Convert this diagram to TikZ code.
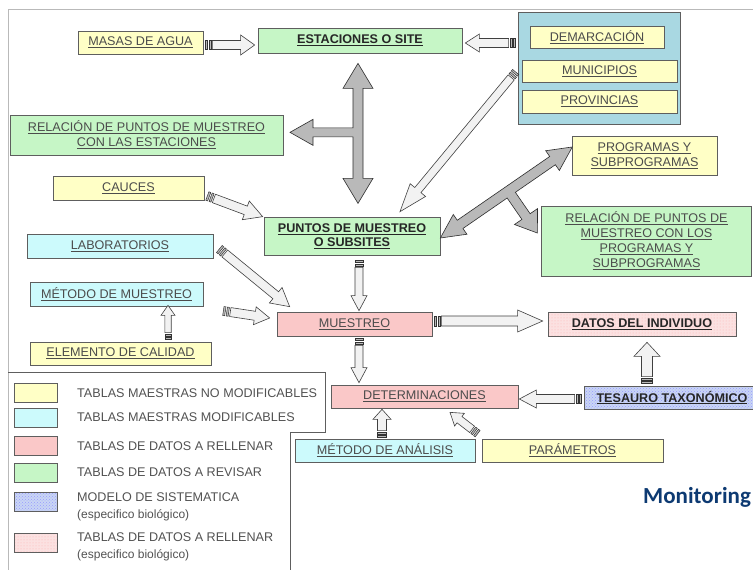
\documentclass[tikz,border=0pt]{standalone}
\usepackage{fontspec}
\setmainfont{Liberation Sans}
\newfontfamily\carlito{Carlito}
\usetikzlibrary{calc,patterns}
\definecolor{cYel}{HTML}{FFFFC6}
\definecolor{cGrn}{HTML}{C6F6C6}
\definecolor{cCyn}{HTML}{CCFAFC}
\definecolor{cPnk}{HTML}{FAC8C8}
\definecolor{cBlu}{HTML}{A9D8E2}
\definecolor{cTxt}{HTML}{4C4C4C}
\definecolor{cEdge}{HTML}{5E5E5E}
\definecolor{cNavy}{HTML}{0D3A72}
\definecolor{cTes}{HTML}{C9D6F4}
\definecolor{cPnkL}{HTML}{FBE1E1}
\tikzset{
  bx/.style={draw=cEdge, line width=0.7pt, inner sep=0pt, align=center, text=cTxt, font=\fontsize{12.6}{15}\selectfont},
  sz/.style 2 args={minimum width=#1pt, minimum height=#2pt},
  yel/.style={bx, fill=cYel},
  grn/.style={bx, fill=cGrn},
  cyn/.style={bx, fill=cCyn},
  pnk/.style={bx, fill=cPnk},
  bld/.style={text=black!85, font=\fontsize{12.6}{14}\selectfont\bfseries},
  swatch/.style={draw=cEdge, line width=0.7pt, minimum width=43pt, minimum height=19pt, inner sep=0pt},
  lgd/.style={anchor=west, inner sep=0pt, text=black!68, font=\fontsize{12.6}{15}\selectfont},
  lgds/.style={anchor=west, inner sep=0pt, text=black!68, font=\fontsize{12}{14}\selectfont},
  arrbody/.style={fill=gray!10, draw=gray!50!black, line width=0.6pt, line join=miter},
  arrstripe/.style={fill=gray!55, draw=gray!40!black, line width=0.5pt},
  bigarr/.style={fill=gray!55, draw=gray!35!black, line width=0.6pt, line join=miter},
}
\newcommand{\blkarrow}[6][]{%
  \coordinate (bkA) at (#2);
  \coordinate (bkB) at (#3);
  \coordinate (bkT1) at ($(bkA)!2pt!(bkB)$);
  \coordinate (bkT2) at ($(bkA)!3.5pt!(bkB)$);
  \coordinate (bkT3) at ($(bkA)!5.5pt!(bkB)$);
  \coordinate (bkS) at ($(bkA)!7pt!(bkB)$);
  \coordinate (bkN) at ($(bkB)!#6!(bkA)$);
  \filldraw[arrbody,#1] ($(bkS)!#4!90:(bkB)$) -- ($(bkN)!#4!90:(bkB)$) -- ($(bkN)!#5!90:(bkB)$) -- (bkB) -- ($(bkN)!#5!-90:(bkB)$) -- ($(bkN)!#4!-90:(bkB)$) -- ($(bkS)!#4!-90:(bkB)$) -- cycle;
  \filldraw[arrstripe] ($(bkA)!#4!90:(bkB)$) -- ($(bkT1)!#4!90:(bkB)$) -- ($(bkT1)!#4!-90:(bkB)$) -- ($(bkA)!#4!-90:(bkB)$) -- cycle;
  \filldraw[arrstripe] ($(bkT2)!#4!90:(bkB)$) -- ($(bkT3)!#4!90:(bkB)$) -- ($(bkT3)!#4!-90:(bkB)$) -- ($(bkT2)!#4!-90:(bkB)$) -- cycle;
}
\begin{document}
\begin{tikzpicture}[x=1pt, y=-1pt]
\useasboundingbox (0,0) rectangle (753,570);
\clip (0,0) rectangle (753,570);
\fill[white] (0,0) rectangle (753,570);
% frame
\draw[gray!55, line width=0.8pt] (8,580) -- (8,9) -- (760,9);

% nodes
\node[yel, sz={125}{23}] (masas) at (140.5,42.5) {\underline{MASAS DE AGUA}};
\node[grn, bld, sz={204}{25}] (est) at (360,40.5) {\underline{ESTACIONES O SITE}};
\node[bx, fill=cBlu, sz={162}{112}] (geo) at (599,68) {};
\node[yel, sz={134}{22}] (dem) at (597,37) {\underline{DEMARCACIÓN}};
\node[yel, sz={155}{22}] (mun) at (599.5,71) {\underline{MUNICIPIOS}};
\node[yel, sz={155}{23}] (prov) at (599.5,101.5) {\underline{PROVINCIAS}};
\node[grn, sz={273}{40}] (relest) at (146.5,135) {\underline{RELACIÓN DE PUNTOS DE MUESTREO}\\\underline{CON LAS ESTACIONES}};
\node[yel, sz={151}{24}] (cauces) at (128.5,188) {\underline{CAUCES}};
\node[yel, sz={145}{39}] (prog) at (644.5,155.5) {\underline{PROGRAMAS Y}\\\underline{SUBPROGRAMAS}};
\node[grn, bld, sz={176}{38}] (pts) at (352,236) {\underline{PUNTOS DE MUESTREO}\\\underline{O SUBSITES}};
\node[grn, sz={210}{70}] (relprog) at (646.5,241) {\underline{RELACIÓN DE PUNTOS DE}\\\underline{MUESTREO CON LOS}\\\underline{PROGRAMAS Y}\\\underline{SUBPROGRAMAS}};
\node[cyn, sz={186}{24}] (lab) at (120,246) {\underline{LABORATORIOS}};
\node[cyn, sz={173}{24}] (metm) at (116.5,294) {\underline{MÉTODO DE MUESTREO}};
\node[pnk, sz={155}{24}] (mue) at (354.5,324) {\underline{MUESTREO}};
\node[bx, bld, sz={188}{24}, preaction={fill=cPnkL}, pattern=dots, pattern color=red!30] (datos) at (642,324) {\underline{DATOS DEL INDIVIDUO}};
\node[yel, sz={181}{23}] (elem) at (120.5,353.5) {\underline{ELEMENTO DE CALIDAD}};
\node[pnk, sz={187}{23}] (det) at (424.5,396.5) {\underline{DETERMINACIONES}};
\node[bx, bld, sz={176}{23}, preaction={fill=cTes}, pattern=crosshatch dots, pattern color=blue!40] (tes) at (672,397.5) {\underline{TESAURO TAXONÓMICO}};
\node[cyn, sz={180}{23}] (metan) at (385,450.5) {\underline{MÉTODO DE ANÁLISIS}};
\node[yel, sz={181}{23}] (param) at (572.5,450.5) {\underline{PARÁMETROS}};

% legend
\draw[cEdge, line width=0.7pt] (8,372) -- (325,372) -- (325,432) -- (290,432) -- (290,580);
\node[swatch, fill=cYel] (sw1) at (35.5,392.5) {};
\node[swatch, fill=cCyn] (sw2) at (35.5,417.5) {};
\node[swatch, fill=cPnk] (sw3) at (35.5,446) {};
\node[swatch, fill=cGrn] (sw4) at (35.5,472.5) {};
\node[swatch, preaction={fill=cTes}, pattern=crosshatch dots, pattern color=blue!40] (sw5) at (35.5,502) {};
\node[swatch, preaction={fill=cPnkL}, pattern=dots, pattern color=red!30] (sw6) at (35.5,543) {};
\node[lgd] (l1) at (77,393) {TABLAS MAESTRAS NO MODIFICABLES};
\node[lgd] (l2) at (77,417) {TABLAS MAESTRAS MODIFICABLES};
\node[lgd] (l3) at (77,446) {TABLAS DE DATOS A RELLENAR};
\node[lgd] (l4) at (77,472.5) {TABLAS DE DATOS A REVISAR};
\node[lgd] (l5) at (77,497) {MODELO DE SISTEMATICA};
\node[lgds] (l5b) at (77,515) {(especifico biológico)};
\node[lgd] (l6) at (77,537) {TABLAS DE DATOS A RELLENAR};
\node[lgds] (l6b) at (77,555) {(especifico biológico)};

\node[anchor=base west, inner sep=0pt, text=cNavy, font=\carlito\bfseries\fontsize{23}{26}\selectfont] (mon) at (643,503) {Monitoring};

% big grey T arrow: ESTACIONES <-> PUNTOS, branch to RELACION
\begin{scope}[shift={($(est.south)+(-2,10)$)}]
\filldraw[bigarr] (0,0) -- (15,25) -- (5,25) -- (5,115) -- (15,115) -- (0,140) -- (-15,115) -- (-5,115) -- (-5,73.5) -- (-45,73.5) -- (-45,82) -- (-68,69) -- (-45,56) -- (-45,64.5) -- (-5,64.5) -- (-5,25) -- (-15,25) -- cycle;
\end{scope}
% big grey T arrow: PUNTOS <-> PROGRAMAS, branch to RELACION programas
\begin{scope}[shift={($(pts.east)+(0,2)$)}, rotate=34.6]
\filldraw[bigarr] (0,0) -- (24,-12) -- (24,-5) -- (136.3,-5) -- (136.3,-12) -- (160.3,0) -- (136.3,12) -- (136.3,5) -- (87.7,5) -- (87.7,31) -- (96.7,31) -- (82.7,51) -- (68.7,31) -- (77.7,31) -- (77.7,5) -- (24,5) -- (24,12) -- cycle;
\end{scope}

% light striped arrows
\blkarrow{$(masas.east)+(2,2.5)$}{$(est.west)+(-3,4.5)$}{4.5pt}{10pt}{14pt}
\blkarrow{$(geo.west)+(-2,-25)$}{$(est.east)+(3,2.5)$}{4.5pt}{9pt}{14pt}
\blkarrow{$(geo.west)+(-2,4)$}{$(pts.north)+(48,-5)$}{4pt}{10pt}{28pt}
\blkarrow{$(cauces.east)+(3,8)$}{$(pts.north west)+(-1,0)$}{4.5pt}{10pt}{18pt}
\blkarrow{$(lab.east)+(6,3)$}{$(mue.north west)+(13,-5)$}{4.5pt}{10pt}{18pt}
\blkarrow{$(metm.east)+(20,17)$}{$(mue.west)+(-7,-6)$}{4.5pt}{9pt}{15pt}
\blkarrow{$(elem.north)+(47.5,-2)$}{$(metm.south)+(51.5,-1)$}{3.2pt}{7pt}{10pt}
\blkarrow{$(pts.south)+(7,5)$}{$(mue.north)+(4.5,-1)$}{4pt}{8pt}{15pt}
\blkarrow{$(mue.south)+(4.5,2)$}{$(det.north)+(-65.5,-2)$}{4pt}{8pt}{15pt}
\blkarrow{$(mue.east)+(2,-3)$}{$(datos.west)+(-5,-3)$}{5pt}{11pt}{25pt}
\blkarrow{$(tes.north)+(-25,-2)$}{$(datos.south)+(5,6)$}{5.5pt}{13pt}{14pt}
\blkarrow{$(tes.west)+(-2,1.5)$}{$(det.east)+(1,2.5)$}{4.5pt}{9pt}{17pt}
\blkarrow{$(metan.north)+(-3,-1)$}{$(det.south)+(-42.5,1)$}{4.5pt}{9pt}{10pt}
\blkarrow{$(param.north west)+(-4,-5)$}{$(det.south)+(25.5,4)$}{4pt}{8pt}{12pt}
\end{tikzpicture}
\end{document}
